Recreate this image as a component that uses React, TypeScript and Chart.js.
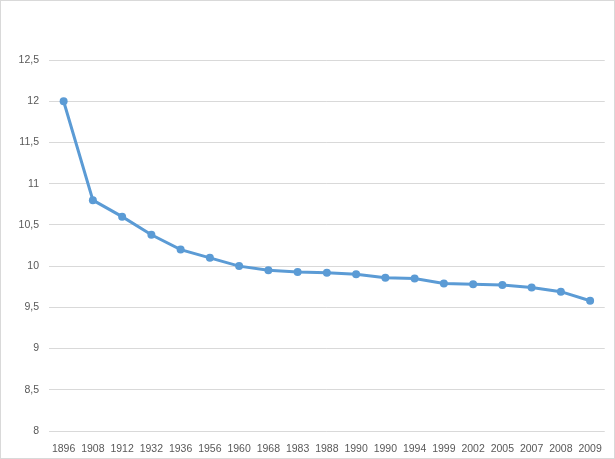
import React, { useEffect, useRef } from "react";
import { Chart, registerables } from "chart.js";

Chart.register(...registerables);

const years: string[] = [
  "1896", "1908", "1912", "1932", "1936", "1956", "1960", "1968", "1983", "1988",
  "1990", "1990", "1994", "1999", "2002", "2005", "2007", "2008", "2009",
];
const times: number[] = [
  12, 10.8, 10.6, 10.38, 10.2, 10.1, 10.0, 9.95, 9.93, 9.92,
  9.9, 9.86, 9.85, 9.79, 9.78, 9.77, 9.74, 9.69, 9.58,
];
const yMin = 8;
const yMax = 12.5;
const yStep = 0.5;

export default function App() {
  const canvasRef = useRef<HTMLCanvasElement | null>(null);

  useEffect(() => {
    document.body.style.margin = "0";
    const canvas = canvasRef.current;
    if (!canvas) return;
    const blue = "#5B9BD5";
    const chart = new Chart(canvas, {
      type: "line",
      data: {
        labels: years,
        datasets: [
          {
            data: times,
            borderColor: blue,
            backgroundColor: blue,
            borderWidth: 3,
            pointRadius: 4,
            pointBackgroundColor: blue,
            pointBorderColor: blue,
            pointBorderWidth: 0,
            tension: 0,
          },
        ],
      },
      options: {
        animation: false,
        responsive: false,
        maintainAspectRatio: false,
        layout: { padding: { left: 0, top: 59, right: 8, bottom: 0 } },
        plugins: { legend: { display: false }, tooltip: { enabled: false } },
        scales: {
          x: {
            offset: true,
            grid: { display: false, drawTicks: false },
            border: { display: false },
            ticks: {
              color: "#595959",
              font: { family: "Liberation Sans", size: 10.5 },
              padding: 12,
              maxRotation: 0,
              autoSkip: false,
            },
            afterFit: (scale: any) => {
              scale.height = 27;
            },
          },
          y: {
            min: yMin,
            max: yMax,
            grid: { color: "#d9d9d9", lineWidth: 1, drawTicks: false },
            border: { display: false },
            ticks: {
              stepSize: yStep,
              color: "#595959",
              font: { family: "Liberation Sans", size: 10.5 },
              padding: 10,
              callback: (v: any) => String(v).replace(".", ","),
            },
            afterFit: (scale: any) => {
              scale.width = 48;
            },
          },
        },
      },
    });
    return () => chart.destroy();
  }, []);

  return (
    <div
      style={{
        width: 615,
        height: 459,
        border: "1px solid #d9d9d9",
        boxSizing: "border-box",
        background: "#fff",
      }}
    >
      <canvas ref={canvasRef} width={613} height={457} style={{ display: "block" }} />
    </div>
  );
}
